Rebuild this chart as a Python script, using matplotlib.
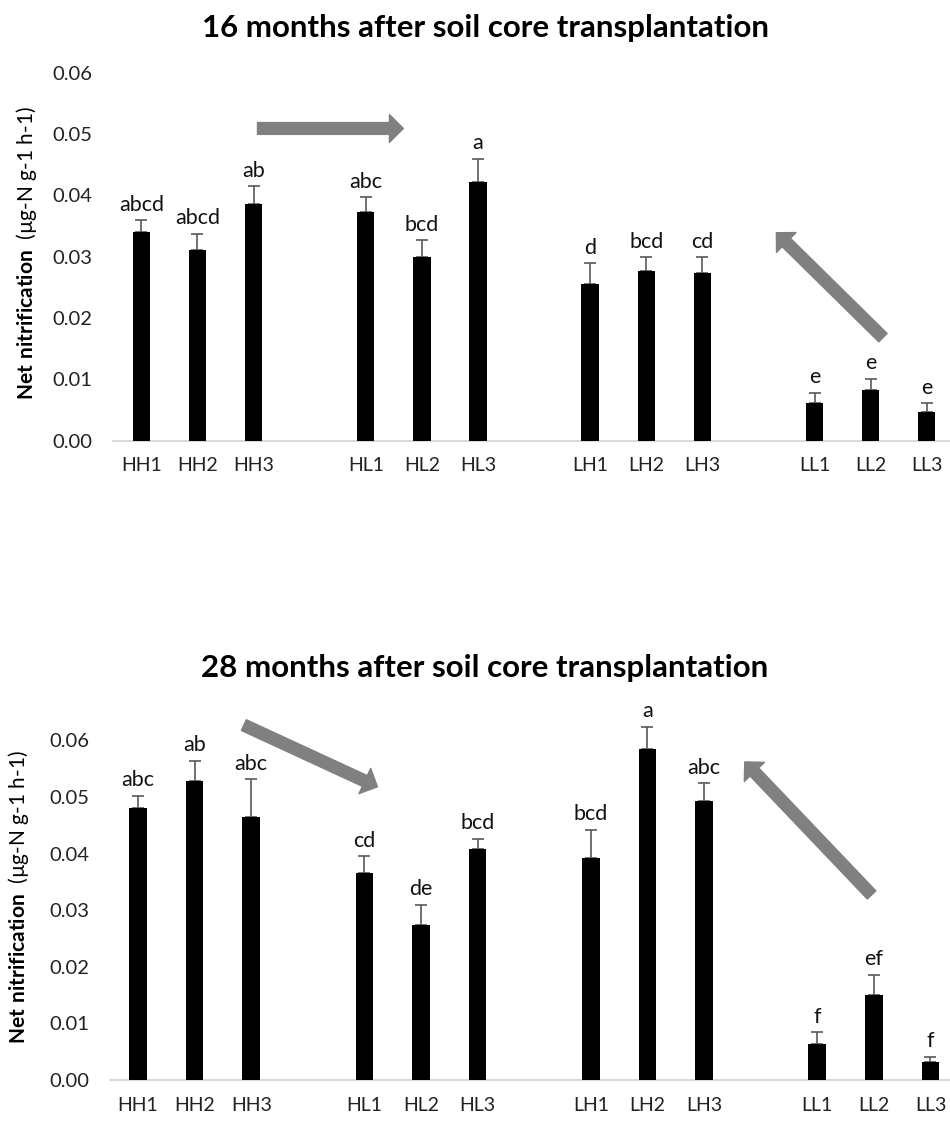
import matplotlib
matplotlib.use('Agg')
import matplotlib.pyplot as plt
from matplotlib.ticker import FormatStrFormatter
import numpy as np

plt.rcParams['font.family'] = ['Lato', 'DejaVu Sans']
plt.rcParams['mathtext.fontset'] = 'custom'
plt.rcParams['mathtext.rm'] = 'Lato'
plt.rcParams['mathtext.bf'] = 'Lato:bold'

# Treatments (source site + destination site, replicate)
labels = ['HH1', 'HH2', 'HH3', 'HL1', 'HL2', 'HL3',
          'LH1', 'LH2', 'LH3', 'LL1', 'LL2', 'LL3']

# 16 months after transplantation
values_16 = [0.0340, 0.0311, 0.0386, 0.0372, 0.0300, 0.0422,
             0.0256, 0.0276, 0.0273, 0.0062, 0.0083, 0.0047]
errors_16 = [0.0019, 0.0026, 0.0029, 0.0025, 0.0027, 0.0038,
             0.0033, 0.0023, 0.0026, 0.0016, 0.0018, 0.0014]
letters_16 = ['abcd', 'abcd', 'ab', 'abc', 'bcd', 'a',
              'd', 'bcd', 'cd', 'e', 'e', 'e']

# 28 months after transplantation
values_28 = [0.0481, 0.0528, 0.0465, 0.0365, 0.0274, 0.0409,
             0.0393, 0.0584, 0.0493, 0.0064, 0.0151, 0.0032]
errors_28 = [0.0021, 0.0036, 0.0066, 0.0030, 0.0036, 0.0017,
             0.0049, 0.0040, 0.0031, 0.0020, 0.0035, 0.0009]
letters_28 = ['abc', 'ab', 'abc', 'cd', 'de', 'bcd',
              'bcd', 'a', 'abc', 'f', 'ef', 'f']

ylabel = r'$\bf{Net\ nitrification}$  (µg-N g-1 h-1)'
arrow_color = '#808080'


def draw_panel(ax, vals, errs, letters, ymax):
    n = len(labels)
    x = np.arange(n) + np.arange(n) // 3  # leave a gap between groups
    ax.bar(x, vals, width=0.31, color='black', zorder=3)
    ax.errorbar(x, vals, yerr=[np.zeros(n), errs], fmt='none',
                ecolor='#595959', elinewidth=1.2, capsize=4, capthick=1.2, zorder=2)
    for xi, v, e, t in zip(x, vals, errs, letters):
        ax.annotate(t, (xi, v + e), xytext=(0, 4), textcoords='offset points',
                    ha='center', va='bottom', fontsize=15.5, color='#111111')
    ax.set_xlim(-0.5, x[-1] + 0.5)
    ax.set_ylim(0, ymax)
    ax.set_yticks(np.arange(0, 0.0601, 0.01))
    ax.yaxis.set_major_formatter(FormatStrFormatter('%.2f'))
    ax.set_xticks(x)
    ax.set_xticklabels(labels)
    ax.tick_params(axis='y', length=0, pad=15, labelsize=14.5, labelcolor='#222222')
    ax.tick_params(axis='x', length=0, pad=12, labelsize=14, labelcolor='#222222')
    for s in ['top', 'right', 'left']:
        ax.spines[s].set_visible(False)
    ax.spines['bottom'].set_color('#d9d9d9')
    ax.spines['bottom'].set_linewidth(1.5)


def arrow(ax, tail, tip):
    ax.annotate('', xy=tip, xytext=tail, annotation_clip=False,
                arrowprops=dict(arrowstyle='simple,head_length=1.0,head_width=2.0,tail_width=0.85',
                                mutation_scale=10, color=arrow_color, shrinkA=0, shrinkB=0))


fig = plt.figure(figsize=(9.5, 11.21), dpi=100)

# top panel
ax1 = fig.add_axes([0.1193, 0.6069, 0.8857, 0.3283])
draw_panel(ax1, values_16, errors_16, letters_16, 0.06)
arrow(ax1, (2.07, 0.0509), (4.67, 0.0509))
arrow(ax1, (13.22, 0.0168), (11.32, 0.0339))
fig.text(485 / 950, 1 - 28 / 1121, '16 months after soil core transplantation',
         ha='center', va='center', fontsize=22.5, fontweight='bold')
fig.text(27 / 950, 1 - 253 / 1121, ylabel, rotation=90, ha='center', va='center',
         fontsize=15)

# bottom panel
ax2 = fig.add_axes([0.1155, 0.03657, 0.8937, 0.3282])
draw_panel(ax2, values_28, errors_28, letters_28, 0.065)
arrow(ax2, (1.87, 0.0627), (4.23, 0.0518))
arrow(ax2, (12.96, 0.0327), (10.72, 0.0562))
fig.text(485 / 950, 1 - 668 / 1121, '28 months after soil core transplantation',
         ha='center', va='center', fontsize=22.5, fontweight='bold')
fig.text(19 / 950, 1 - 897 / 1121, ylabel, rotation=90, ha='center', va='center',
         fontsize=15)

fig.savefig('out.png', dpi=100)
